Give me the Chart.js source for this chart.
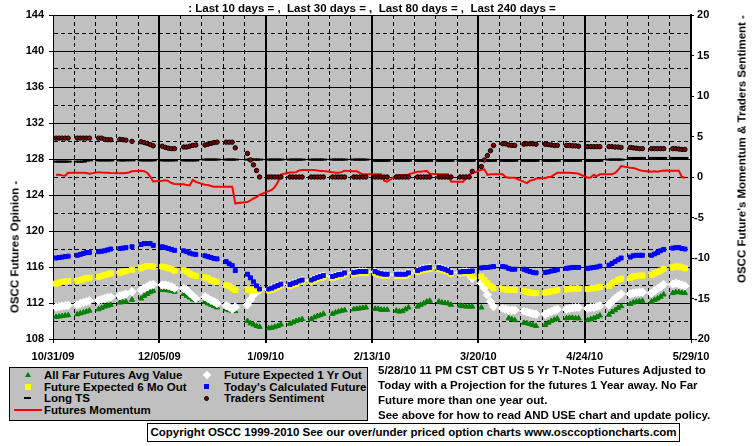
<!DOCTYPE html>
<html>
<head>
<meta charset="utf-8">
<script src="https://cdn.jsdelivr.net/npm/chart.js@4.4.0/dist/chart.umd.min.js"></script>
<style>
  body { margin: 0; background: #fff; }
  #wrap { position: relative; width: 755px; height: 446px; font: bold 11.5px "Liberation Sans", Arial, sans-serif; color: #000; }
  #wrap canvas { position: absolute; left: 0; top: 0; }
  .txt { position: absolute; white-space: pre; line-height: 13px; }
  .vt { position: absolute; white-space: nowrap; line-height: 13px; transform: translate(-50%, -50%) rotate(-90deg); }
  #legend { position: absolute; left: 9px; top: 367px; width: 357px; height: 52px; background: #c0c0c0; border: 1px solid #000; }
  .row { position: absolute; white-space: nowrap; line-height: 13px; transform: translateY(-50%); }
  .mk { position: absolute; }
  #copy { position: absolute; left: 147px; top: 423px; width: 531px; height: 17px; border: 1px solid #000; background: #fff; text-align: center; line-height: 17px; white-space: nowrap; }
</style>
</head>
<body>
<div id="wrap">
  <canvas id="chart" width="755" height="446"></canvas>
  <div class="txt" style="left:53px; width:638px; top:2px; text-align:center;">: Last 10 days = ,  Last 30 days = ,  Last 80 days = ,  Last 240 days =</div>
  <div class="vt" style="left:15px; top:247px;">OSCC Futures Opinion -</div>
  <div class="vt" style="left:742px; top:149px;">OSCC Future's Momentum &amp; Traders Sentiment -</div>

  <div id="legend">
    <span class="mk" style="left:15px; top:4px; width:0; height:0; border-left:3px solid transparent; border-right:3px solid transparent; border-bottom:5px solid #008000;"></span>
    <span class="row" style="left:34px; top:7px;">All Far Futures Avg Value</span>
    <span class="mk" style="left:15px; top:16px; width:6px; height:6px; background:#ffff00;"></span>
    <span class="row" style="left:34px; top:18.7px;">Future Expected 6 Mo Out</span>
    <span class="mk" style="left:14px; top:29px; width:7px; height:2px; background:#000;"></span>
    <span class="row" style="left:34px; top:30.3px;">Long TS</span>
    <span class="mk" style="left:4px; top:41px; width:28px; height:2px; background:#ff0000;"></span>
    <span class="row" style="left:34px; top:42px;">Futures Momentum</span>

    <span class="mk" style="left:194px; top:4px; width:6px; height:6px; background:#fff; transform:rotate(45deg);"></span>
    <span class="row" style="left:214px; top:7px;">Future Expected 1 Yr Out</span>
    <span class="mk" style="left:194px; top:16px; width:5px; height:5px; background:#0000ff;"></span>
    <span class="row" style="left:214px; top:18.7px;">Today's Calculated Future</span>
    <span class="mk" style="left:194px; top:28px; width:3px; height:3px; background:#800000; border:1px solid #000; border-radius:50%;"></span>
    <span class="row" style="left:214px; top:30.3px;">Traders Sentiment</span>
  </div>

  <div class="txt" style="left:378px; top:363px; line-height:15px;">5/28/10 11 PM CST CBT US 5 Yr T-Notes Futures Adjusted to
Today with a Projection for the futures 1 Year away. No Far
Future more than one year out.
See above for how to read AND USE chart and update policy.</div>

  <div id="copy">Copyright OSCC 1999-2010 See our over/under priced option charts www.osccoptioncharts.com</div>
</div>

<script>
// x axis: days from 10/31/09, labels every 5 weeks
const X_LABELS = ['10/31/09', '12/05/09', '1/09/10', '2/13/10', '3/20/10', '4/24/10', '5/29/10'];

// one row per week, five trading days per row (null = no print)
const tradersSentiment = [
  [4.8, 4.8, 4.8, 4.8, 4.8], [4.8, 4.8, 4.8, 4.8, 4.8], [4.8, 4.8, 4.65, 4.6, 4.6], [4.65, 4.6, 4.55, null, 4.4],
  [4.35, 4.25, 4.15, 4.0, 3.85], [3.8, 3.65, 3.55, 3.5, 3.5], [3.7, 3.7, 3.8, 3.9, 3.95], [3.95, 4.05, 4.15, 4.25, 4.3],
  [4.3, 4.3, 4.3, 3.6, null], [2.9, 2.1, 1.5, 0.8, 0.0], [0, 0, 0, 0, 0], [0, 0, 0, 0, 0],
  [0, 0, 0, 0, 0], [0, 0, 0, 0, 0], [0, 0, 0, 0, 0], [0, 0, 0, 0, 0],
  [0, 0, 0, 0, 0], [0, 0, 0, 0, 0], [0, 0, 0, 0, 0], [0, 0, 0, 0, 0.7],
  [1.3, 2.1, 2.65, 3.25, 3.9], [4.1, 4.1, 3.95, 3.9, 3.9], [4.05, 4.1, 4.1, 4.1, 4.05], [4.05, 4.0, 3.95, 3.9, 3.9],
  [3.9, 3.9, 3.85, 3.85, 3.8], [3.75, 3.75, 3.75, 3.75, 3.75], [3.75, 3.75, 3.7, 3.7, 3.65], [3.65, 3.6, 3.55, 3.5, 3.5],
  [3.5, 3.5, 3.5, 3.5, 3.5], [3.5, 3.5, 3.45, 3.4, 3.4]
];

const futuresMomentum = [
  [0.28, 0.28, 0.2, 0.15, 0.53], [0.53, 0.53, 0.53, 0.5, 0.4], [0.6, 0.55, 0.53, 0.53, 0.5], [0.45, 0.45, 0.5, 0.55, 0.7],
  [0.78, 0.7, 0.53, 0.04, -0.55], [-0.45, -0.4, -0.5, -0.75, -0.85], [-0.9, -1.0, -1.05, -0.35, -0.6], [-0.95, -1.0, -1.1, -1.2, -1.2],
  [-1.2, -1.2, -1.2, -3.25, null], [-3.1, -2.9, -2.65, -2.5, -2.2], [-1.75, -1.6, -1.25, -0.65, 0.3], [0.55, 0.55, 0.6, 0.8, 0.85],
  [0.86, 0.85, 0.8, 0.75, 0.75], [0.6, 0.53, 0.53, 0.6, 0.78], [0.7, 0.7, 0.5, 0.33, 0.33], [0.33, 0.33, 0.33, -0.45, -0.58],
  [0.2, 0.25, 0.25, 0.25, 0.3], [0.66, 0.66, 0.7, 0.75, 0.4], [0.33, 0.33, 0.33, 0.33, -0.55], [-0.58, -0.58, -0.1, 0.3, 0.45],
  [0.9, 0.95, 0.25, 0.33, 0.33], [0.33, 0.0, -0.08, -0.08, -0.1], [-0.6, -0.75, -0.45, -0.37, -0.2], [-0.15, 0.0, 0.04, 0.3, 0.53],
  [0.53, 0.53, 0.5, 0.45, 0.4], [-0.08, -0.05, 0.25, 0.1, 0.33], [0.33, 0.33, 0.5, 0.86, 1.35], [1.15, 1.1, 1.0, 0.85, 0.78],
  [0.66, 0.7, 0.66, 0.75, 0.8], [0.78, 0.78, 0.78, 0.0, -0.08]
];

const longTS = [
  [1.9, 1.9, 1.9, 1.9, 1.9], [1.9, 1.9, 1.9, 2.05, 2.05], [2.05, 2.05, 2.05, 2.05, 2.05], [2.05, 2.05, 2.05, null, 2.05],
  [2.05, 2.05, 2.05, 2.05, 2.05], [2.05, 2.05, 2.05, 2.05, 2.05], [2.05, 2.05, 2.05, 2.05, 2.05], [2.15, 2.15, 2.15, 2.15, 2.15],
  [2.15, 2.15, 2.15, 2.15, null], [2.15, 2.15, 2.15, 2.15, 2.15], [2.15, 2.15, 2.15, 2.15, 2.15], [2.15, 2.15, 2.15, 2.15, 2.15],
  [2.15, 2.15, 2.15, 2.15, 2.15], [2.15, 2.15, 2.15, 2.15, 2.15], [2.15, 2.15, 2.15, 2.15, 2.15], [2.0, 2.0, 2.0, 2.0, 2.0],
  [2.0, 2.0, 2.0, 2.0, 2.0], [2.0, 2.0, 2.0, 2.0, 2.0], [2.0, 2.0, 2.0, 2.0, 2.0], [2.0, 2.0, 2.0, 2.0, 2.0],
  [2.0, 2.0, 2.0, 2.0, 2.0], [2.0, 2.0, 2.0, 2.0, 2.0], [2.0, 2.0, 2.0, 2.0, 2.0], [2.0, 2.0, 2.0, 2.0, 2.0],
  [2.0, 2.0, 2.0, 2.0, 2.0], [2.0, 2.0, 2.0, 2.0, 2.0], [2.15, 2.15, 2.15, 2.15, 2.15], [2.35, 2.35, 2.35, 2.35, 2.35],
  [2.35, 2.35, 2.35, 2.35, 2.35], [2.35, 2.35, 2.35, 2.35, 2.35]
];

const todaysCalculated = [
  [117.0, 117.05, 117.1, 117.15, 117.2], [117.3, 117.4, 117.5, 117.6, 117.6], [117.7, 117.75, 117.8, 117.9, 118.0], [118.05, 118.1, 118.15, null, 118.25],
  [118.5, 118.6, 118.6, 118.6, 118.4], [118.25, 118.15, 118.05, 117.95, 117.85], [117.8, 117.7, 117.55, 117.45, 117.4], [117.25, 117.15, 117.05, 116.95, 116.9],
  [116.6, 116.35, 116.15, 115.6, null], [115.2, 114.8, 114.35, 113.9, 113.55], [113.55, 113.65, 113.8, 113.95, 114.1], [114.05, 114.2, 114.3, 114.45, 114.55],
  [114.55, 114.7, 114.85, 114.95, 115.05], [114.95, 115.05, 115.15, 115.2, 115.35], [115.4, 115.45, 115.5, 115.5, 115.5], [115.5, 115.35, 115.25, 115.2, 115.2],
  [115.2, 115.2, 115.2, 115.2, 115.35], [115.6, 115.75, 115.85, 115.9, 115.95], [115.95, 115.85, 115.75, 115.6, 115.4], [115.45, 115.5, 115.5, 115.5, 115.55],
  [115.9, 115.95, 115.95, 116.0, 116.05], [116.05, 116.0, 115.85, 115.75, 115.75], [115.75, 115.6, 115.5, 115.4, 115.35], [115.4, 115.45, 115.55, 115.6, 115.7],
  [115.85, 115.9, 115.95, 115.95, 115.95], [115.85, 115.9, 115.95, 116.0, 116.1], [116.2, 116.4, 116.6, 116.8, 117.0], [117.1, 117.25, 117.3, 117.3, 117.3],
  [117.3, 117.45, 117.6, 117.8, 117.95], [118.1, 118.15, 118.15, 118.05, 118.0]
];

const expected6Mo = [
  [114.15, 114.25, 114.35, 114.4, 114.45], [114.45, 114.55, 114.65, 114.75, 114.8], [114.9, 115.0, 115.1, 115.2, 115.3], [115.35, 115.45, 115.55, null, 115.7],
  [115.85, 116.0, 116.1, 116.1, 116.05], [116.05, 115.95, 115.85, 115.75, 115.6], [115.65, 115.5, 115.25, 115.1, 115.0], [114.85, 114.75, 114.55, 114.45, 114.3],
  [114.0, 113.9, 113.65, 113.45, null], [113.5, 113.45, 113.45, 113.45, 113.5], [113.4, 113.5, 113.65, 113.8, 113.95], [113.9, 114.05, 114.15, 114.3, 114.4],
  [114.4, 114.55, 114.7, 114.8, 114.9], [114.8, 114.9, 115.0, 115.05, 115.2], [115.25, 115.3, 115.35, 115.35, 115.35], [115.35, 115.2, 115.1, 115.05, 115.05],
  [115.05, 115.05, 115.05, 115.05, 115.2], [115.45, 115.6, 115.7, 115.75, 115.8], [115.8, 115.7, 115.6, 115.45, 115.25], [115.3, 115.35, 115.35, 115.3, 115.0],
  [114.95, 114.55, 114.2, 113.9, 113.65], [113.6, 113.5, 113.45, 113.45, 113.45], [113.35, 113.25, 113.15, 113.1, 113.1], [113.15, 113.2, 113.3, 113.35, 113.45],
  [113.5, 113.55, 113.6, 113.6, 113.6], [113.55, 113.6, 113.65, 113.7, 113.8], [113.9, 114.2, 114.35, 114.55, 114.7], [114.75, 114.95, 115.0, 115.05, 115.05],
  [115.1, 115.3, 115.45, 115.6, 115.8], [115.95, 116.05, 116.05, 115.95, 115.85]
];

const expected1Yr = [
  [111.55, 111.6, 111.65, 111.7, 111.75], [111.8, 111.95, 112.05, 112.15, 112.25], [112.3, 112.4, 112.5, 112.6, 112.65], [112.8, 112.9, 113.0, null, 113.25],
  [113.45, 113.65, 113.8, 114.0, 114.05], [114.0, 114.0, 113.9, 113.8, 113.65], [113.6, 113.45, 113.1, 112.8, 112.5], [112.7, 112.5, 112.3, 112.15, 111.95],
  [111.7, 111.55, 111.3, 111.55, null], [111.8, 112.35, 112.9, 113.25, 113.5], [113.5, 113.6, 113.75, 113.9, 114.05], [114.0, 114.15, 114.25, 114.4, 114.5],
  [114.5, 114.65, 114.8, 114.9, 115.0], [114.9, 115.0, 115.1, 115.15, 115.3], [115.35, 115.4, 115.45, 115.45, 115.45], [115.45, 115.3, 115.2, 115.15, 115.15],
  [115.15, 115.15, 115.15, 115.15, 115.3], [115.55, 115.7, 115.8, 115.85, 115.9], [115.9, 115.8, 115.7, 115.55, 115.35], [115.4, 115.45, 115.45, 115.2, 114.75],
  [114.2, 113.65, 112.9, 112.15, 111.6], [111.4, 111.3, 111.2, 111.2, 111.2], [111.1, 111.0, 110.9, 110.8, 110.75], [110.75, 110.9, 111.05, 111.2, 111.3],
  [111.3, 111.4, 111.45, 111.5, 111.5], [111.4, 111.5, 111.5, 111.6, 111.7], [111.8, 112.15, 112.5, 112.75, 113.0], [113.0, 113.1, 113.15, 113.2, 113.2],
  [113.1, 113.35, 113.6, 113.8, 114.05], [114.1, 114.2, 114.1, 114.0, 113.9]
];

const farFuturesAvg = [
  [110.45, 110.5, 110.55, 110.6, 110.65], [110.75, 110.85, 110.95, 111.05, 111.15], [111.3, 111.45, 111.6, 111.7, 111.8], [112.05, 112.1, 112.15, null, 112.35],
  [112.5, 112.8, 113.0, 113.2, 113.35], [113.45, 113.45, 113.4, 113.35, 113.25], [113.0, 112.8, 112.6, 112.4, 112.3], [112.15, 111.95, 111.8, 111.65, 111.5],
  [111.3, 111.2, 111.1, 111.1, null], [110.0, 109.75, 109.6, 109.45, 109.35], [109.2, 109.25, 109.35, 109.45, 109.6], [109.7, 109.85, 110.0, 110.1, 110.2],
  [110.2, 110.4, 110.55, 110.65, 110.8], [110.8, 110.95, 111.05, 111.15, 111.2], [111.3, 111.35, 111.4, 111.45, 111.5], [111.35, 111.35, 111.25, 111.25, 111.25],
  [111.15, 111.05, 111.1, 111.3, 111.5], [111.6, 111.8, 111.95, 112.15, 112.25], [112.15, 112.05, 112.0, 111.95, 111.8], [111.7, 111.65, 111.6, 111.6, 111.6],
  [111.5, null, null, null, null], [null, null, 110.3, 110.2, 110.1], [109.8, 109.75, 109.65, 109.55, 109.45], [109.55, 109.8, 110.0, 110.15, 110.25],
  [110.3, 110.35, 110.35, 110.3, 110.3], [110.1, 110.2, 110.3, 110.45, 110.6], [110.7, 111.0, 111.2, 111.45, 111.65], [111.9, 112.05, 112.15, 112.2, 112.25],
  [112.15, 112.35, 112.5, 112.7, 112.95], [113.1, 113.2, 113.2, 113.15, 113.1]
];

// week w, weekday d -> day offset on the date axis
function weekPoints(rows) {
  const pts = [];
  rows.forEach((wk, w) => wk.forEach((v, d) => pts.push({ x: 7 * w + 1 + d, y: v })));
  return pts;
}

const plotBg = {
  id: 'plotBg',
  beforeDraw(chart) {
    const { ctx, chartArea: a } = chart;
    ctx.save();
    ctx.fillStyle = '#c0c0c0';
    ctx.fillRect(a.left, a.top, a.right - a.left, a.bottom - a.top);
    ctx.restore();
  }
};

Chart.defaults.font.family = '"Liberation Sans", Arial, sans-serif';
Chart.defaults.font.size = 11;
Chart.defaults.font.weight = 'bold';
Chart.defaults.color = '#000';

const tickVal = c => (c.tick ? Math.round(c.tick.value) : null);

new Chart(document.getElementById('chart'), {
  type: 'scatter',
  data: {
    datasets: [
      {
        label: 'Traders Sentiment', data: weekPoints(tradersSentiment), yAxisID: 'y2',
        pointStyle: 'circle', pointRadius: 2.2, backgroundColor: '#800000', borderColor: '#000', borderWidth: 1,
      },
      {
        label: 'Futures Momentum', data: weekPoints(futuresMomentum), yAxisID: 'y2',
        showLine: true, spanGaps: true, borderColor: '#ff0000', borderWidth: 2, pointRadius: 0, tension: 0,
      },
      {
        label: 'Long TS', data: weekPoints(longTS), yAxisID: 'y2',
        pointStyle: 'line', pointRadius: 3.5, borderColor: '#000', borderWidth: 2,
      },
      {
        label: "Today's Calculated Future", data: weekPoints(todaysCalculated), yAxisID: 'y',
        pointStyle: 'rect', pointRadius: 2.8, backgroundColor: '#0000ff', borderColor: '#0000ff', borderWidth: 1,
      },
      {
        label: 'Future Expected 6 Mo Out', data: weekPoints(expected6Mo), yAxisID: 'y',
        pointStyle: 'rect', pointRadius: 3.6, backgroundColor: '#ffff00', borderColor: '#ffff00', borderWidth: 1,
      },
      {
        label: 'Future Expected 1 Yr Out', data: weekPoints(expected1Yr), yAxisID: 'y',
        pointStyle: 'rectRot', pointRadius: 4.2, backgroundColor: '#ffffff', borderColor: '#ffffff', borderWidth: 1,
      },
      {
        label: 'All Far Futures Avg Value', data: weekPoints(farFuturesAvg), yAxisID: 'y',
        pointStyle: 'triangle', pointRadius: 3, backgroundColor: '#008000', borderColor: '#008000', borderWidth: 1,
      },
    ]
  },
  options: {
    responsive: false,
    animation: false,
    devicePixelRatio: 1,
    layout: { padding: { top: 15, left: 0, right: 0, bottom: 0 } },
    plugins: { legend: { display: false }, tooltip: { enabled: false } },
    scales: {
      x: {
        type: 'linear', min: 0, max: 210,
        afterFit: s => { s.height = 107; },
        ticks: {
          stepSize: 7, autoSkip: false, maxRotation: 0, padding: 7,
          callback: v => (Math.round(v) % 35 === 0 ? X_LABELS[Math.round(v) / 35] : ''),
        },
        grid: {
          color: '#000', tickLength: 4,
          lineWidth: c => { const v = tickVal(c); return v !== null && v % 35 === 0 && v > 0 && v < 210 ? 2 : 1; },
          tickColor: c => (tickVal(c) % 35 === 0 ? '#000' : 'rgba(0,0,0,0)'),
        },
        border: { color: '#000', width: 1, dash: c => { const v = tickVal(c); return v !== null && v % 35 !== 0 ? [4, 3] : []; } },
      },
      y: {
        position: 'left', min: 108, max: 144,
        afterFit: s => { s.width = 53; },
        ticks: { stepSize: 2, padding: 5, callback: v => (Math.round(v) % 4 === 0 ? v : '') },
        grid: {
          color: '#000', tickLength: 4,
          tickColor: c => (tickVal(c) % 4 === 0 ? '#000' : 'rgba(0,0,0,0)'),
        },
        border: { color: '#000', width: 1, dash: c => { const v = tickVal(c); return v !== null && v % 4 !== 0 ? [4, 3] : []; } },
      },
      y2: {
        position: 'right', min: -20, max: 20,
        afterFit: s => { s.width = 64; },
        ticks: { stepSize: 5, padding: 0, callback: v => (v < 0 ? String(v) : ' ' + v) },
        grid: { drawOnChartArea: false, color: '#000', tickLength: 3 },
        border: { color: '#000', width: 2 },
      },
    }
  },
  plugins: [plotBg]
});
</script>
</body>
</html>
